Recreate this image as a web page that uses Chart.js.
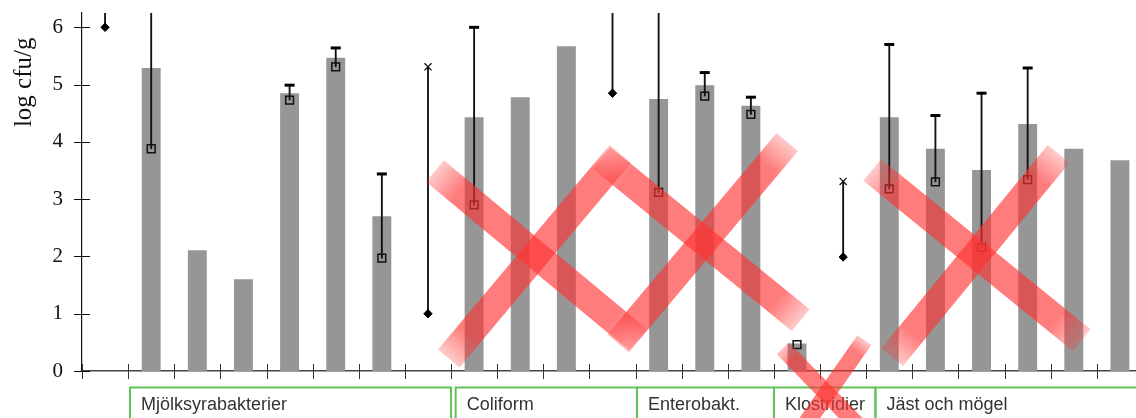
<!DOCTYPE html>
<html>
<head>
<meta charset="utf-8">
<script src="https://cdn.jsdelivr.net/npm/chart.js@4/dist/chart.umd.min.js"></script>
<style>
  html, body { margin: 0; padding: 0; background: #fff; overflow: hidden; }
  #wrap { position: relative; width: 1151px; height: 418px; }
</style>
</head>
<body>
<div id="wrap"><canvas id="chart"></canvas></div>
<script>
// sample positions (no visible labels in the original)
const samples = ['1','2','3','4','5','6','7','8','9','10','11','12','13','14','15','16','17','18','19','20','21','22','23'];

// grey bars, log cfu/g
const barValues    = [null, 5.29, 2.11, 1.60, 4.85, 5.47, 2.70, null, 4.43, 4.78, 5.67, null, 4.75, 4.99, 4.63, 0.48, null, 4.43, 3.88, 3.51, 4.31, 3.88, 3.68];
// open squares
const medianValues = [null, 3.88, null, null, 4.73, 5.31, 1.97, null, 2.90, null, null, null, 3.12, 4.80, 4.48, 0.46, null, 3.18, 3.30, 2.16, 3.34, null, null];
// filled diamonds (low end)
const lowValues    = [6.00, null, null, null, null, null, null, 1.00, null, null, null, 4.85, null, null, null, null, 1.99, null, null, null, null, null, null];
// crosses (high end)
const crossValues  = [null, null, null, null, null, null, null, 5.31, null, null, null, null, null, null, null, null, 3.31, null, null, null, null, null, null];
// whisker top (values above 6.25 run off the plot)
const highValues   = [6.80, 6.80, null, null, 4.99, 5.64, 3.44, 5.31, 6.00, null, null, 6.80, 6.80, 5.21, 4.78, null, 3.31, 5.70, 4.46, 4.85, 5.29, null, null];
// caps on whiskers
const capValues    = [null, null, null, null, 4.99, 5.64, 3.44, null, 6.00, null, null, null, null, 5.21, 4.78, null, null, 5.70, 4.46, 4.85, 5.29, null, null];

const yTicks = [0, 1, 2, 3, 4, 5, 6];
const yTitle = 'log cfu/g';

// groups under the axis, in category-boundary units
const groupNames = ['Mjölksyrabakterier', 'Coliform', 'Enterobakt.', 'Klostridier', 'Jäst och mögel'];
const groupFrom  = [1.04, 8.1, 12.03, 15.0, 17.2];
const groupTo    = [8.0, 12.03, 15.0, 17.2, 24.0];

// red crosses painted over the chart: [x1, y1, x2, y2, width] in category / value units
const crossOut = [
  [7.15, 3.49, 11.56, 0.54, 28], [7.45, 0.22, 11.17, 3.79, 28],
  [10.76, 3.72, 15.08, 0.89, 28], [11.12, 0.48, 14.79, 4.00, 28],
  [16.63, 3.51, 21.17, 0.54, 28], [17.06, 0.24, 20.67, 3.79, 28],
  [14.69, 0.40, 16.63, -1.21, 17], [16.46, 0.54, 15.00, -1.14, 17]
];

const whiskers = highValues.map((h, i) => {
  const lo = medianValues[i] != null ? medianValues[i] : lowValues[i];
  return (h == null || lo == null) ? null : [lo, h];
});

const extras = {
  id: 'extras',
  afterDraw(chart) {
    const ctx = chart.ctx;
    const xs = chart.scales.x, ys = chart.scales.y;
    const area = chart.chartArea;

    ctx.save();
    // crossing tick marks
    ctx.lineWidth = 1;
    ctx.strokeStyle = '#111';
    yTicks.forEach(v => {
      const y = Math.round(ys.getPixelForValue(v)) + 0.5;
      ctx.beginPath();
      ctx.moveTo(area.left - 8, y);
      ctx.lineTo(area.left + 8, y);
      ctx.stroke();
    });
    ctx.strokeStyle = '#333';
    for (let k = 0; k <= samples.length; k++) {
      const x = Math.round(xs.getPixelForValue(k - 0.5)) + 0.5;
      ctx.beginPath();
      ctx.moveTo(x, area.bottom - 7);
      ctx.lineTo(x, area.bottom + 8);
      ctx.stroke();
    }

    // y title
    ctx.save();
    ctx.translate(24, ys.getPixelForValue(5.04));
    ctx.rotate(-Math.PI / 2);
    ctx.font = '25px "Liberation Serif", serif';
    ctx.fillStyle = '#111';
    ctx.textAlign = 'center';
    ctx.textBaseline = 'middle';
    ctx.fillText(yTitle, 0, 0);
    ctx.restore();

    // group boxes
    const boxTop = area.bottom + 16.5;
    ctx.lineWidth = 2;
    ctx.strokeStyle = '#5fc35a';
    ctx.font = '18px "Liberation Sans", Arial, sans-serif';
    ctx.fillStyle = '#333';
    ctx.textBaseline = 'alphabetic';
    groupNames.forEach((name, i) => {
      const l = xs.getPixelForValue(groupFrom[i] - 0.5);
      const r = xs.getPixelForValue(groupTo[i] - 0.5);
      ctx.strokeRect(l, boxTop, r - l, 60);
      ctx.fillText(name, l + 11, area.bottom + 39);
    });

    // red crossing-out strokes
    ctx.lineCap = 'butt';
    crossOut.forEach(([a, b, c, d, w]) => {
      const x1 = xs.getPixelForValue(a), y1 = ys.getPixelForValue(b);
      const x2 = xs.getPixelForValue(c), y2 = ys.getPixelForValue(d);
      const g = ctx.createLinearGradient(x1, y1, x2, y2);
      g.addColorStop(0, 'rgba(255,50,50,0.26)');
      g.addColorStop(0.12, 'rgba(255,50,50,0.64)');
      g.addColorStop(0.88, 'rgba(255,50,50,0.64)');
      g.addColorStop(1, 'rgba(255,50,50,0.26)');
      ctx.strokeStyle = g;
      ctx.lineWidth = w;
      ctx.beginPath();
      ctx.moveTo(x1, y1);
      ctx.lineTo(x2, y2);
      ctx.stroke();
    });
    ctx.restore();
  }
};

new Chart(document.getElementById('chart'), {
  type: 'bar',
  data: {
    labels: samples,
    datasets: [
      {
        type: 'line', data: medianValues, showLine: false, order: 1,
        pointStyle: 'rect', pointRadius: 5.5, pointBorderWidth: 1.5,
        pointBorderColor: '#111', pointBackgroundColor: 'rgba(0,0,0,0)'
      },
      {
        type: 'line', data: lowValues, showLine: false, order: 1,
        pointStyle: 'rectRot', pointRadius: 4.2, pointBorderWidth: 1,
        pointBorderColor: '#000', pointBackgroundColor: '#000'
      },
      {
        type: 'line', data: crossValues, showLine: false, order: 1,
        pointStyle: 'crossRot', pointRadius: 5, pointBorderWidth: 1.3,
        pointBorderColor: '#111'
      },
      {
        type: 'line', data: capValues, showLine: false, order: 2,
        pointStyle: 'line', pointRadius: 5, pointBorderWidth: 3,
        pointBorderColor: '#000'
      },
      {
        data: whiskers, order: 3, grouped: false,
        barThickness: 1.2, backgroundColor: '#111', borderWidth: 0
      },
      {
        data: barValues, order: 4, grouped: false,
        barPercentage: 0.41, categoryPercentage: 1,
        backgroundColor: '#969696', borderWidth: 0
      }
    ]
  },
  options: {
    responsive: true,
    maintainAspectRatio: false,
    animation: false,
    events: [],
    layout: { padding: { top: 13, right: 3, left: 0, bottom: 0 } },
    plugins: { legend: { display: false }, tooltip: { enabled: false } },
    scales: {
      x: {
        offset: true,
        grid: { display: false, drawTicks: false },
        ticks: { display: false },
        border: { display: true, color: '#444', width: 1.5 },
        afterFit(s) { s.height = 47; s.paddingLeft = 0; s.paddingRight = 0; }
      },
      y: {
        min: 0, max: 6.25,
        afterBuildTicks(s) { s.ticks = yTicks.map(v => ({ value: v })); },
        grid: { display: false, drawTicks: false },
        ticks: { padding: 19, color: '#111', font: { family: '"Liberation Serif", serif', size: 21 } },
        border: { display: true, color: '#111', width: 1.2 },
        afterFit(s) { s.width = 82; s.paddingTop = 0; s.paddingBottom = 0; }
      }
    }
  },
  plugins: [extras]
});
</script>
</body>
</html>
